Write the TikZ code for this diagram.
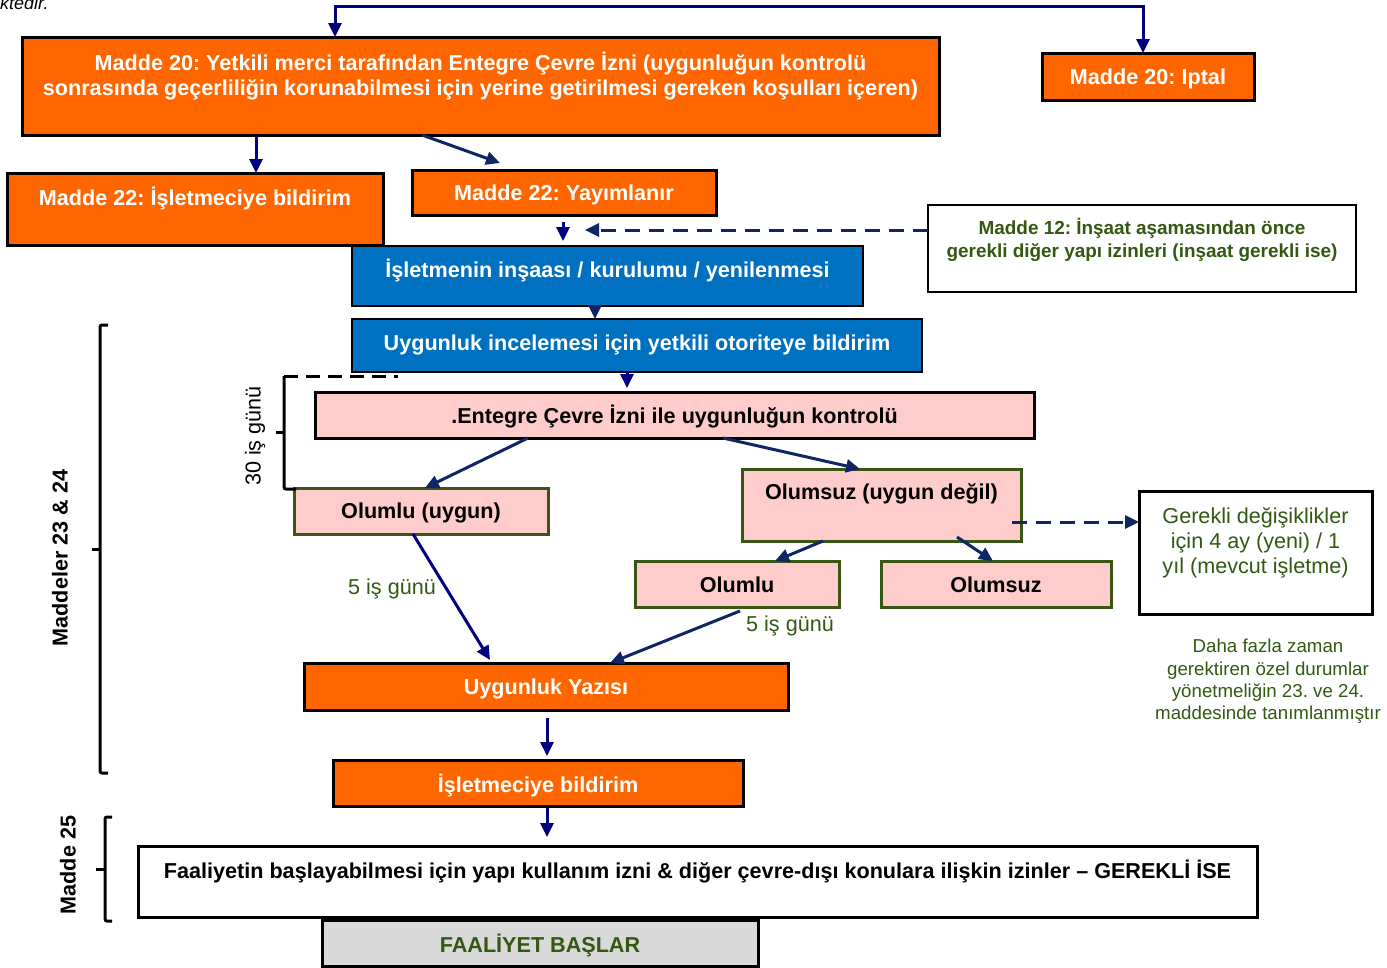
\documentclass[tikz,border=0pt]{standalone}
\usepackage{fontspec}
\setmainfont{Liberation Sans}
\usetikzlibrary{arrows.meta}
\frenchspacing

\definecolor{orng}{RGB}{255,102,0}
\definecolor{blu}{RGB}{0,112,192}
\definecolor{pnk}{RGB}{255,204,204}
\definecolor{grnline}{RGB}{56,86,20}
\definecolor{olv}{RGB}{51,88,18}
\definecolor{nvy}{RGB}{0,0,128}
\definecolor{dnvy}{RGB}{16,38,100}
\definecolor{gry}{RGB}{217,217,217}

% box content: width, height, baseline of first line from the top, text
\newcommand{\tb}[4]{\parbox[c][#2pt][t]{#1pt}{\centering\vspace*{\dimexpr#3pt-\ht\strutbox\relax}\strut#4}}

\tikzset{
  fbold/.style={font=\fontsize{21.6}{25}\selectfont\bfseries},
  freg/.style={font=\fontsize{21.6}{25}\selectfont},
  box/.style={inner sep=0pt, outer sep=0pt, anchor=north west, line width=3pt, draw=black},
  obox/.style={box, fill=orng, text=white, fbold},
  bbox/.style={box, fill=blu, text=white, line width=2pt, fbold},
  pbox/.style={box, fill=pnk, text=black, fbold},
  gbox/.style={box, fill=pnk, draw=grnline, text=black, fbold},
  wbox/.style={box, fill=white},
  >={Triangle[length=14pt,width=13pt]},
  arr/.style={draw=nvy, line width=3pt, ->},
  darr/.style={draw=dnvy, line width=3pt, ->},
  dsh/.style={draw=dnvy, line width=3pt, dash pattern=on 15pt off 9pt, ->},
  brk/.style={draw=black, line width=3pt, rounded corners=2pt},
  lbl/.style={inner sep=0pt, text=olv, freg},
}

\begin{document}
\begin{tikzpicture}[x=1pt, y=-1pt]
\useasboundingbox (0,0) rectangle (1387,967);

% leftover line of the preceding paragraph
\node[anchor=base west, inner sep=0pt, font=\fontsize{18}{22}\selectfont\itshape] (prev) at (0,9) {ktedir.};

% boxes
\node[obox] (A) at (22,37) {\tb{917}{98}{32}{Madde 20: Yetkili merci tarafından Entegre Çevre İzni (uygunluğun kontrolü\\sonrasında geçerliliğin korunabilmesi için yerine getirilmesi gereken koşulları içeren)}};
\node[obox] (Ip) at (1042,53) {\tb{212}{47}{31.5}{Madde 20: Iptal}};
\node[obox] (B) at (7,173) {\tb{376}{72}{31.5}{Madde 22: İşletmeciye bildirim}};
\node[obox] (C) at (412,170) {\tb{304}{45}{30.5}{Madde 22: Yayımlanır}};
\node[bbox] (D) at (352,246) {\tb{511}{60}{30.5}{İşletmenin inşaası / kurulumu / yenilenmesi}};
\node[wbox, line width=2pt, text=olv, font=\fontsize{18.9}{23}\selectfont\bfseries] (E) at (928,205) {\tb{428}{87}{29}{Madde 12: İnşaat aşamasından önce\\gerekli diğer yapı izinleri (inşaat gerekli ise)}};
\node[bbox] (F) at (352,319) {\tb{570}{53}{31.5}{Uygunluk incelemesi için yetkili otoriteye bildirim}};
\node[pbox] (G) at (315,392) {\tb{719}{46}{30.5}{.Entegre Çevre İzni ile uygunluğun kontrolü}};
\node[gbox] (H) at (294,488) {\tb{254}{46}{30.5}{Olumlu (uygun)}};
\node[gbox] (I) at (742,469) {\tb{279}{72}{30.5}{Olumsuz (uygun değil)}};
\node[wbox, text=olv, freg] (J) at (1139,491) {\tb{233}{123}{32.5}{Gerekli değişiklikler\\için 4 ay (yeni) / 1\\yıl (mevcut işletme)}};
\node[gbox] (L) at (635,561) {\tb{204}{46}{31.5}{Olumlu}};
\node[gbox] (M) at (881,561) {\tb{230}{46}{31.5}{Olumsuz}};
\node[obox] (N) at (304,663) {\tb{484}{47}{31.5}{Uygunluk Yazısı}};
\node[obox] (O) at (333,760) {\tb{410}{46}{31.5}{İşletmeciye bildirim}};
\node[wbox, text=black, fbold] (P) at (138,846) {\tb{1119}{71}{31.5}{Faaliyetin başlayabilmesi için yapı kullanım izni \& diğer çevre-dışı konulara ilişkin izinler – GEREKLİ İSE}};
\node[box, fill=gry, text=olv, fbold] (Q) at (322,920) {\tb{436}{46}{31.5}{FAALİYET BAŞLAR}};

% side note
\node[inner sep=0pt, text=olv, align=center, font=\fontsize{18.7}{22.3}\selectfont] (K) at (1268,681.5) {Daha fazla zaman\\gerektiren özel durumlar\\yönetmeliğin 23. ve 24.\\maddesinde tanımlanmıştır};

% durations
\node[lbl] (t1) at (392,589) {5 iş günü};
\node[lbl] (t2) at (790,626) {5 iş günü};
\node[inner sep=0pt, rotate=90, freg] (t30) at (255,436) {30 iş günü};

% article brackets
\node[inner sep=0pt, rotate=90, fbold] (t2324) at (60,558) {Maddeler 23 \& 24};
\node[inner sep=0pt, rotate=90, fbold] (t25) at (68,865) {Madde 25};
\draw[brk] (108,325) -- (100,325) -- (100,773) -- (108,773);
\draw[brk] (100,549) -- (92,549);
\draw[brk] (112,817) -- (105,817) -- (105,921) -- (112,921);
\draw[brk] (105,869) -- (96,869);
\draw[brk] (284,376) -- (284,489) -- (296,489);
\draw[brk] (284,432) -- (276,432);
\draw[draw=black, line width=3pt, dash pattern=on 14pt off 8pt] (284,376) -- (398,376);

% connectors
\coordinate (topline) at (700,6);
\draw[arr, <->] ([xshift=313pt]A.north west) |- (topline) -| ([xshift=101pt]Ip.north west);
\draw[arr] ([xshift=234pt]A.south west) -- ([xshift=249pt]B.north west);
\draw[darr] ([xshift=400pt]A.south west) -- ([xshift=88pt,yshift=7pt]C.north west);
\draw[arr] ([xshift=151pt,yshift=-7pt]C.south west) -- ([xshift=211pt,yshift=5pt]D.north west);
\coordinate (dend) at (585,230);
\draw[dsh] ([yshift=18.5pt]E.west) -- (dend);
\draw[darr] ([xshift=243pt]D.south west) -- ([xshift=243pt]F.north west);
\draw[arr] ([xshift=275pt]F.south west) -- ([xshift=312pt,yshift=4pt]G.north west);
\draw[darr] ([xshift=213pt]G.south west) -- ([xshift=131pt]H.north west);
\draw[darr] ([xshift=408pt]G.south west) -- ([xshift=118pt]I.north west);
\draw[dsh] ([xshift=-9pt,yshift=-17pt]I.east) -- ([yshift=30.5pt]J.west);
\draw[darr] ([xshift=81pt]I.south west) -- ([xshift=140pt]L.north west);
\draw[darr] ([xshift=215pt,yshift=4pt]I.south west) -- ([xshift=112pt]M.north west);
\draw[arr] ([xshift=119pt]H.south west) -- ([xshift=186pt,yshift=3pt]N.north west);
\draw[darr] ([xshift=105pt,yshift=-4pt]L.south west) -- ([xshift=306pt]N.north west);
\draw[arr] ([xshift=243pt,yshift=-8pt]N.south west) -- ([xshift=214pt,yshift=4pt]O.north west);
\draw[arr] ([xshift=214pt,yshift=-2pt]O.south west) -- ([xshift=409pt,yshift=9pt]P.north west);
\end{tikzpicture}
\end{document}
